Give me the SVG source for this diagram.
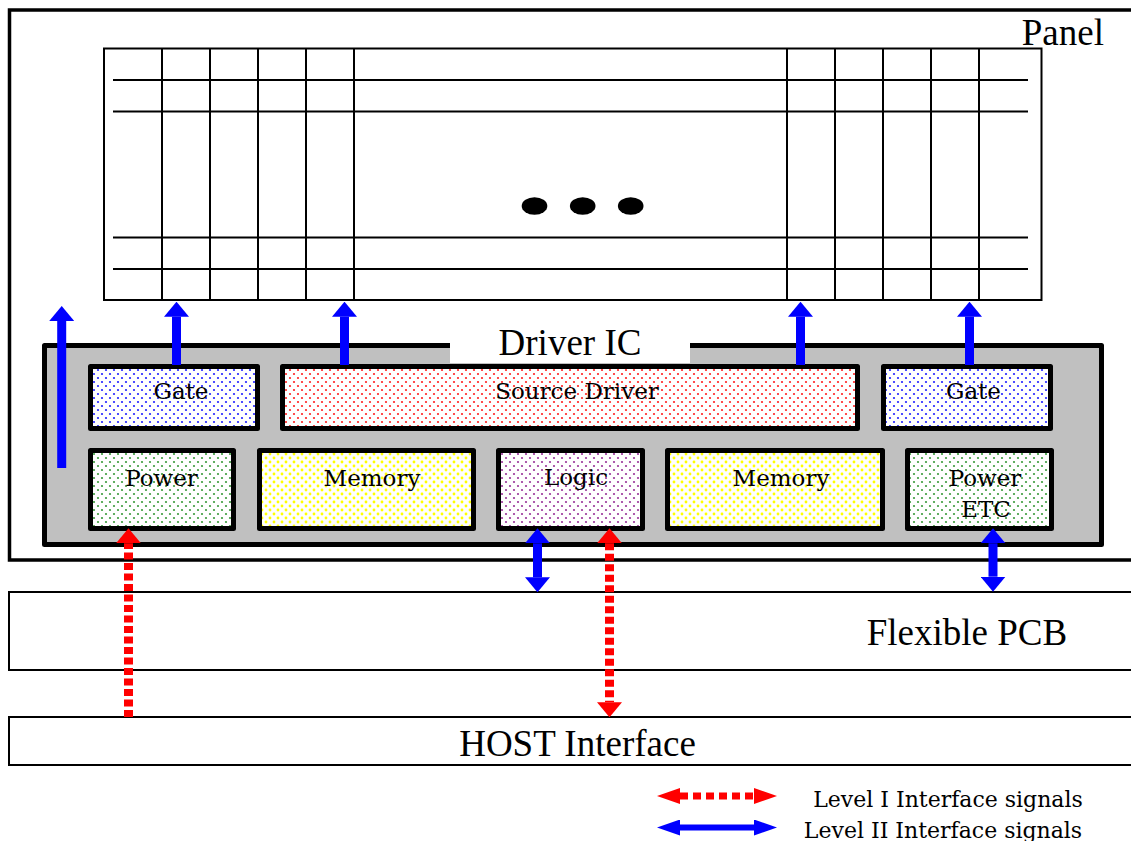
<svg xmlns="http://www.w3.org/2000/svg" width="1131" height="841" viewBox="0 0 1131 841">
<defs>
  <pattern id="pBlue" width="8" height="8" patternUnits="userSpaceOnUse"><rect width="8" height="8" fill="#ffffff"/><circle cx="2" cy="2" r="1.1" fill="#2020ff"/><circle cx="6" cy="6" r="1.1" fill="#2020ff"/></pattern>
  <pattern id="pRed" width="8" height="8" patternUnits="userSpaceOnUse"><rect width="8" height="8" fill="#ffffff"/><circle cx="2" cy="2" r="1.1" fill="#ff2020"/><circle cx="6" cy="6" r="1.1" fill="#ff2020"/></pattern>
  <pattern id="pGreen" width="8" height="8" patternUnits="userSpaceOnUse"><rect width="8" height="8" fill="#ffffff"/><circle cx="2" cy="2" r="1.1" fill="#3a9a3a"/><circle cx="6" cy="6" r="1.1" fill="#3a9a3a"/></pattern>
  <pattern id="pYellow" width="8" height="8" patternUnits="userSpaceOnUse"><rect width="8" height="8" fill="#ffffff"/><circle cx="2" cy="2" r="1.4" fill="#ffff00"/><circle cx="6" cy="6" r="1.4" fill="#ffff00"/></pattern>
  <pattern id="pPurple" width="8" height="8" patternUnits="userSpaceOnUse"><rect width="8" height="8" fill="#ffffff"/><circle cx="2" cy="2" r="1.1" fill="#993399"/><circle cx="6" cy="6" r="1.1" fill="#993399"/></pattern>
  <marker id="hBlue" viewBox="0 0 15 25" refX="0" refY="12.5" markerWidth="15" markerHeight="25" markerUnits="userSpaceOnUse" orient="auto-start-reverse"><path d="M0,0 L15,12.5 L0,25 Z" fill="#0000ff"/></marker>
  <marker id="hRed" viewBox="0 0 15 25" refX="0" refY="12.5" markerWidth="15" markerHeight="25" markerUnits="userSpaceOnUse" orient="auto-start-reverse"><path d="M0,0 L15,12.5 L0,25 Z" fill="#ff0000"/></marker>
  <marker id="lBlue" viewBox="0 0 23 16" refX="0" refY="8" markerWidth="23" markerHeight="16" markerUnits="userSpaceOnUse" orient="auto-start-reverse"><path d="M0,0 L23,8 L0,16 Z" fill="#0000ff"/></marker>
  <marker id="lRed" viewBox="0 0 23 16" refX="0" refY="8" markerWidth="23" markerHeight="16" markerUnits="userSpaceOnUse" orient="auto-start-reverse"><path d="M0,0 L23,8 L0,16 Z" fill="#ff0000"/></marker>
</defs>
<style>
  .big { font-family: "Liberation Serif", "Times New Roman", serif; font-size: 37px; fill: #000; }
  .lbl { font-family: "DejaVu Serif", "Liberation Serif", serif; font-size: 23px; fill: #000; text-anchor: middle; }
  .leg { font-family: "DejaVu Serif", "Liberation Serif", serif; font-size: 22px; fill: #000; text-anchor: middle; }
  .box { stroke: #000; stroke-width: 5; stroke-linejoin: round; }
  .grid line { stroke: #000; stroke-width: 2; }
  .thin { fill: none; stroke: #000; stroke-width: 2; }
  .blue { stroke: #0000ff; stroke-width: 9; fill: none; }
  .red { stroke: #ff0000; stroke-width: 9; fill: none; stroke-dasharray: 7 3.5; }
</style>
<rect width="1131" height="841" fill="#ffffff"/>

<g id="panel">
  <rect x="9.5" y="10" width="1130" height="550" fill="none" stroke="#000" stroke-width="3.5"/>
  <text class="big" x="1104" y="45" text-anchor="end">Panel</text>
  <g class="grid">
    <rect x="104" y="48.5" width="937.5" height="251.5" fill="none" stroke="#000" stroke-width="2"/>
    <line x1="113" y1="80" x2="1028" y2="80"/>
    <line x1="113" y1="111.5" x2="1028" y2="111.5"/>
    <line x1="113" y1="237.5" x2="1028" y2="237.5"/>
    <line x1="113" y1="269" x2="1028" y2="269"/>
    <line x1="162" y1="48.5" x2="162" y2="300"/>
    <line x1="210" y1="48.5" x2="210" y2="300"/>
    <line x1="258" y1="48.5" x2="258" y2="300"/>
    <line x1="306" y1="48.5" x2="306" y2="300"/>
    <line x1="354" y1="48.5" x2="354" y2="300"/>
    <line x1="787" y1="48.5" x2="787" y2="300"/>
    <line x1="835" y1="48.5" x2="835" y2="300"/>
    <line x1="883" y1="48.5" x2="883" y2="300"/>
    <line x1="931" y1="48.5" x2="931" y2="300"/>
    <line x1="979" y1="48.5" x2="979" y2="300"/>
  </g>
  <ellipse cx="534.5" cy="206" rx="12.8" ry="8.8" fill="#000"/>
  <ellipse cx="582.7" cy="206" rx="12.8" ry="8.8" fill="#000"/>
  <ellipse cx="630.7" cy="206" rx="12.8" ry="8.8" fill="#000"/>
</g>

<g id="driver-ic">
  <rect x="44.5" y="345.5" width="1057" height="199" fill="#c0c0c0" stroke="#000" stroke-width="5" stroke-linejoin="round"/>
  <rect x="450" y="335" width="240" height="28" fill="#ffffff"/>
  <text class="big" x="570" y="355" text-anchor="middle">Driver IC</text>
</g>

<g id="gate-left">
  <rect class="box" x="90.5" y="366.5" width="167" height="62" fill="url(#pBlue)"/>
  <text class="lbl" x="181" y="399">Gate</text>
</g>
<g id="source-driver">
  <rect class="box" x="282.5" y="366.5" width="575" height="62" fill="url(#pRed)"/>
  <text class="lbl" x="577" y="399">Source Driver</text>
</g>
<g id="gate-right">
  <rect class="box" x="883.5" y="366.5" width="167" height="62" fill="url(#pBlue)"/>
  <text class="lbl" x="973.5" y="399">Gate</text>
</g>
<g id="power">
  <rect class="box" x="90.5" y="450.5" width="143" height="78" fill="url(#pGreen)"/>
  <text class="lbl" x="161.5" y="486">Power</text>
</g>
<g id="memory-left">
  <rect class="box" x="259.5" y="450.5" width="214" height="78" fill="url(#pYellow)"/>
  <text class="lbl" x="372" y="486">Memory</text>
</g>
<g id="logic">
  <rect class="box" x="498.5" y="450.5" width="144" height="78" fill="url(#pPurple)"/>
  <text class="lbl" x="576" y="485">Logic</text>
</g>
<g id="memory-right">
  <rect class="box" x="667.5" y="450.5" width="215" height="78" fill="url(#pYellow)"/>
  <text class="lbl" x="781" y="486">Memory</text>
</g>
<g id="power-etc">
  <rect class="box" x="907.5" y="450.5" width="144" height="78" fill="url(#pGreen)"/>
  <text class="lbl" x="985" y="486">Power</text>
  <text class="lbl" x="986" y="516.5">ETC</text>
</g>

<g id="flexible-pcb">
  <rect class="thin" x="9" y="592" width="1130" height="78"/>
  <text class="big" x="967" y="644.5" text-anchor="middle">Flexible PCB</text>
</g>
<g id="host-interface">
  <rect class="thin" x="9" y="717" width="1130" height="48"/>
  <text class="big" x="577.5" y="756" text-anchor="middle">HOST Interface</text>
</g>

<g id="connectors">
  <line class="blue" x1="61.7" y1="468" x2="61.7" y2="321" marker-end="url(#hBlue)"/>
  <line class="blue" x1="176.5" y1="365" x2="176.5" y2="316.7" marker-end="url(#hBlue)"/>
  <line class="blue" x1="344.5" y1="365" x2="344.5" y2="316.7" marker-end="url(#hBlue)"/>
  <line class="blue" x1="800.5" y1="365" x2="800.5" y2="316.7" marker-end="url(#hBlue)"/>
  <line class="blue" x1="969.5" y1="365" x2="969.5" y2="316.7" marker-end="url(#hBlue)"/>
  <line class="blue" x1="537.5" y1="543.3" x2="537.5" y2="577.3" marker-start="url(#hBlue)" marker-end="url(#hBlue)"/>
  <line class="blue" x1="993" y1="543.3" x2="993" y2="576.7" marker-start="url(#hBlue)" marker-end="url(#hBlue)"/>
  <line class="red" x1="128.5" y1="717" x2="128.5" y2="543.3" marker-end="url(#hRed)"/>
  <line class="red" x1="609.5" y1="543.3" x2="609.5" y2="702.3" marker-start="url(#hRed)" marker-end="url(#hRed)"/>
</g>

<g id="legend">
  <line x1="680" y1="796" x2="754" y2="796" stroke="#ff0000" stroke-width="7" stroke-dasharray="8 5" marker-start="url(#lRed)" marker-end="url(#lRed)"/>
  <text class="leg" x="948" y="806.5">Level I Interface signals</text>
  <line x1="680" y1="827.5" x2="754" y2="827.5" stroke="#0000ff" stroke-width="6" marker-start="url(#lBlue)" marker-end="url(#lBlue)"/>
  <text class="leg" x="943" y="838">Level II Interface signals</text>
</g>
</svg>
